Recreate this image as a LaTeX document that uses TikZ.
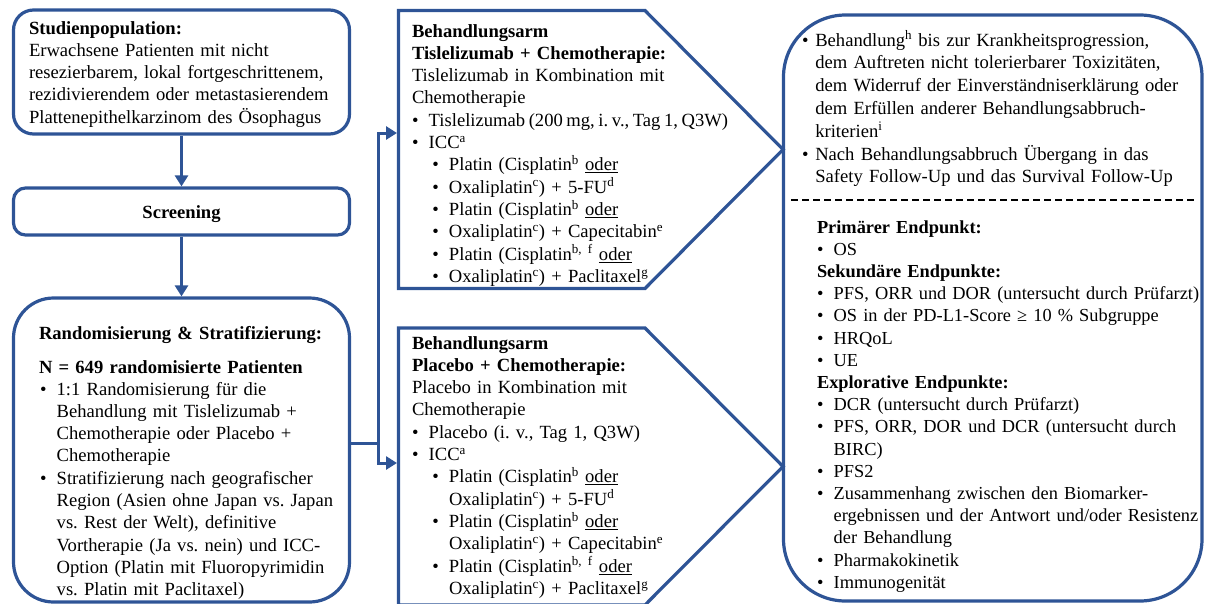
\documentclass[tikz,border=0pt]{standalone}
\usepackage{fontspec}
\setmainfont{Liberation Serif}
\usetikzlibrary{arrows.meta}
\frenchspacing
\definecolor{bl}{RGB}{46,84,150}
\newcommand{\bul}{\makebox[16.7pt][l]{\textbullet}}
% first bullet of a node (already in horizontal mode)
\newcommand{\bio}{\hangindent=16.7pt\hangafter=1\bul}
\newcommand{\biao}{\hangindent=13.3pt\hangafter=1\makebox[13.3pt][l]{\textbullet}}
% following bullets
\newcommand{\bi}{\par\hangindent=16.7pt\hangafter=1\noindent\bul}
\newcommand{\bia}{\par\hangindent=13.3pt\hangafter=1\noindent\makebox[13.3pt][l]{\textbullet}}
\newcommand{\bii}{\par\hangindent=37pt\hangafter=1\noindent\hspace*{20.3pt}\bul}
\newcommand{\sps}[1]{\textsuperscript{#1}}
\newsavebox{\ulbox}
\newcommand{\undl}[1]{\sbox{\ulbox}{#1}\rlap{\rule[-2.6pt]{\wd\ulbox}{1.1pt}}\usebox{\ulbox}}
\tikzset{
  box/.style={draw=bl, line width=3.2pt, rectangle, inner sep=0pt},
  txt/.style={inner sep=0pt, outer sep=0pt, anchor=base west, align=left, text width=#1,
    font=\fontsize{18.6}{22.3}\selectfont},
  txtr/.style={txt=#1, font=\fontsize{18.6}{22.8}\selectfont},
  txts/.style={txt=#1, font=\fontsize{18.35}{22.2}\selectfont},
  conn/.style={draw=bl, line width=3pt, line join=miter},
  arr/.style={conn, -{Triangle[length=11pt,width=13pt]}},
}
\begin{document}
\begin{tikzpicture}[x=1pt,y=-1pt]
\useasboundingbox (0,0) rectangle (1206,603);
% left column boxes
\node[box, rounded corners=20pt, minimum width=336pt, minimum height=124pt] (pop) at (181.5,72) {};
\node[box, rounded corners=12pt, minimum width=336pt, minimum height=47pt] (scr) at (181.5,211.5) {};
\node[box, rounded corners=40pt, minimum width=336pt, minimum height=304pt] (rand) at (181.5,450) {};
% middle arms
\draw[bl, line width=3.2pt, line join=miter] (398.5,10.5) -- (645,10.5) -- (783,149.5) -- (645,288.5) -- (398.5,288.5) -- cycle;
\draw[bl, line width=3.2pt, line join=miter] (398.5,328) -- (645,328) -- (783,466.5) -- (645,605) -- (398.5,605) -- cycle;
% right box
\node[box, rounded corners=62pt, minimum width=418.5pt, minimum height=586pt] (res) at (992.75,308) {};
% connectors
\draw[arr] (pop.south) -- (scr.north);
\draw[arr] (scr.south) -- (rand.north);
\coordinate (j) at (378,443);
\coordinate (armA) at (397,133);
\coordinate (armB) at (397,463);
\draw[conn] (rand.east |- j) -- (j);
\draw[arr] (j) |- (armA);
\draw[arr] (j) |- (armB);
% dashed separator
\coordinate (dl) at (791,200);
\coordinate (dr) at (1196,200);
\draw[black, line width=1.5pt, dash pattern=on 7pt off 4pt] (dl) -- (dr);
% texts left
\node[txt=330pt] (tpop) at (29,34) {\textbf{Studienpopulation:}\newline Erwachsene Patienten mit nicht\newline resezierbarem, lokal fortgeschrittenem,\newline rezidivierendem oder metastasierendem\newline Plattenepithelkarzinom des Ösophagus\par};
\node[inner sep=0pt, anchor=base, font=\fontsize{18.6}{22.3}\selectfont\bfseries] (tscr) at (181.5,218) {Screening};
\node[txt=320pt] (trh) at (39,339) {\textbf{Randomisierung \& Stratifizierung:}};
\node[txt=320pt] (trn) at (39,373) {\textbf{N = 649 randomisierte Patienten}};
\node[txt=320pt] (trb) at (40,395) {\bio 1:1 Randomisierung für die\newline Behandlung mit Tislelizumab +\newline Chemotherapie oder Placebo +\newline Chemotherapie
\bi Stratifizierung nach geografischer\newline Region (Asien ohne Japan vs. Japan\newline vs. Rest der Welt), definitive\newline Vortherapie (Ja vs. nein) und ICC-\newline Option (Platin mit Fluoropyrimidin\newline vs. Platin mit Paclitaxel)\par};
% texts middle
\node[txt=360pt] (tarmA) at (412,37) {\textbf{Behandlungsarm}\newline\textbf{Tislelizumab + Chemotherapie:}\newline Tislelizumab in Kombination mit\newline Chemotherapie
\bi {\spaceskip=3.6pt plus 1pt Tislelizumab (200 mg, i. v., Tag 1, Q3W)}
\bi ICC\sps{a}
\bii Platin (Cisplatin\sps{b} \undl{oder}
\bii Oxaliplatin\sps{c}) + 5-FU\sps{d}
\bii Platin (Cisplatin\sps{b} \undl{oder}
\bii Oxaliplatin\sps{c}) + Capecitabin\sps{e}
\bii Platin (Cisplatin\sps{b, f} \undl{oder}
\bii Oxaliplatin\sps{c}) + Paclitaxel\sps{g}\par};
\node[txt=360pt] (tarmB) at (412,349) {\textbf{Behandlungsarm}\newline\textbf{Placebo + Chemotherapie:}\newline Placebo in Kombination mit\newline Chemotherapie
\bi Placebo (i. v., Tag 1, Q3W)
\bi ICC\sps{a}
\bii Platin (Cisplatin\sps{b} \undl{oder}\newline Oxaliplatin\sps{c}) + 5-FU\sps{d}
\bii Platin (Cisplatin\sps{b} \undl{oder}\newline Oxaliplatin\sps{c}) + Capecitabin\sps{e}
\bii Platin (Cisplatin\sps{b, f} \undl{oder}\newline Oxaliplatin\sps{c}) + Paclitaxel\sps{g}\par};
% texts right
\node[txtr=420pt] (tresA) at (802,46) {\biao Behandlung\sps{h} bis zur Krankheitsprogression,\newline dem Auftreten nicht tolerierbarer Toxizitäten,\newline dem Widerruf der Einverständniserklärung oder\newline dem Erfüllen anderer Behandlungsabbruch-\newline kriterien\sps{i}
\bia Nach Behandlungsabbruch Übergang in das\newline Safety Follow-Up und das Survival Follow-Up\par};
\node[txts=420pt] (tresB) at (817,233) {\textbf{Primärer Endpunkt:}
\bi OS
\par\noindent\textbf{Sekundäre Endpunkte:}
\bi PFS, ORR und DOR (untersucht durch Prüfarzt)
\bi OS in der PD-L1-Score ≥ 10 \% Subgruppe
\bi HRQoL
\bi UE
\par\noindent\textbf{Explorative Endpunkte:}
\bi DCR (untersucht durch Prüfarzt)
\bi PFS, ORR, DOR und DCR (untersucht durch\newline BIRC)
\bi PFS2
\bi Zusammenhang zwischen den Biomarker-\newline ergebnissen und der Antwort und/oder Resistenz\newline der Behandlung
\bi Pharmakokinetik
\bi Immunogenität\par};
\end{tikzpicture}
\end{document}
